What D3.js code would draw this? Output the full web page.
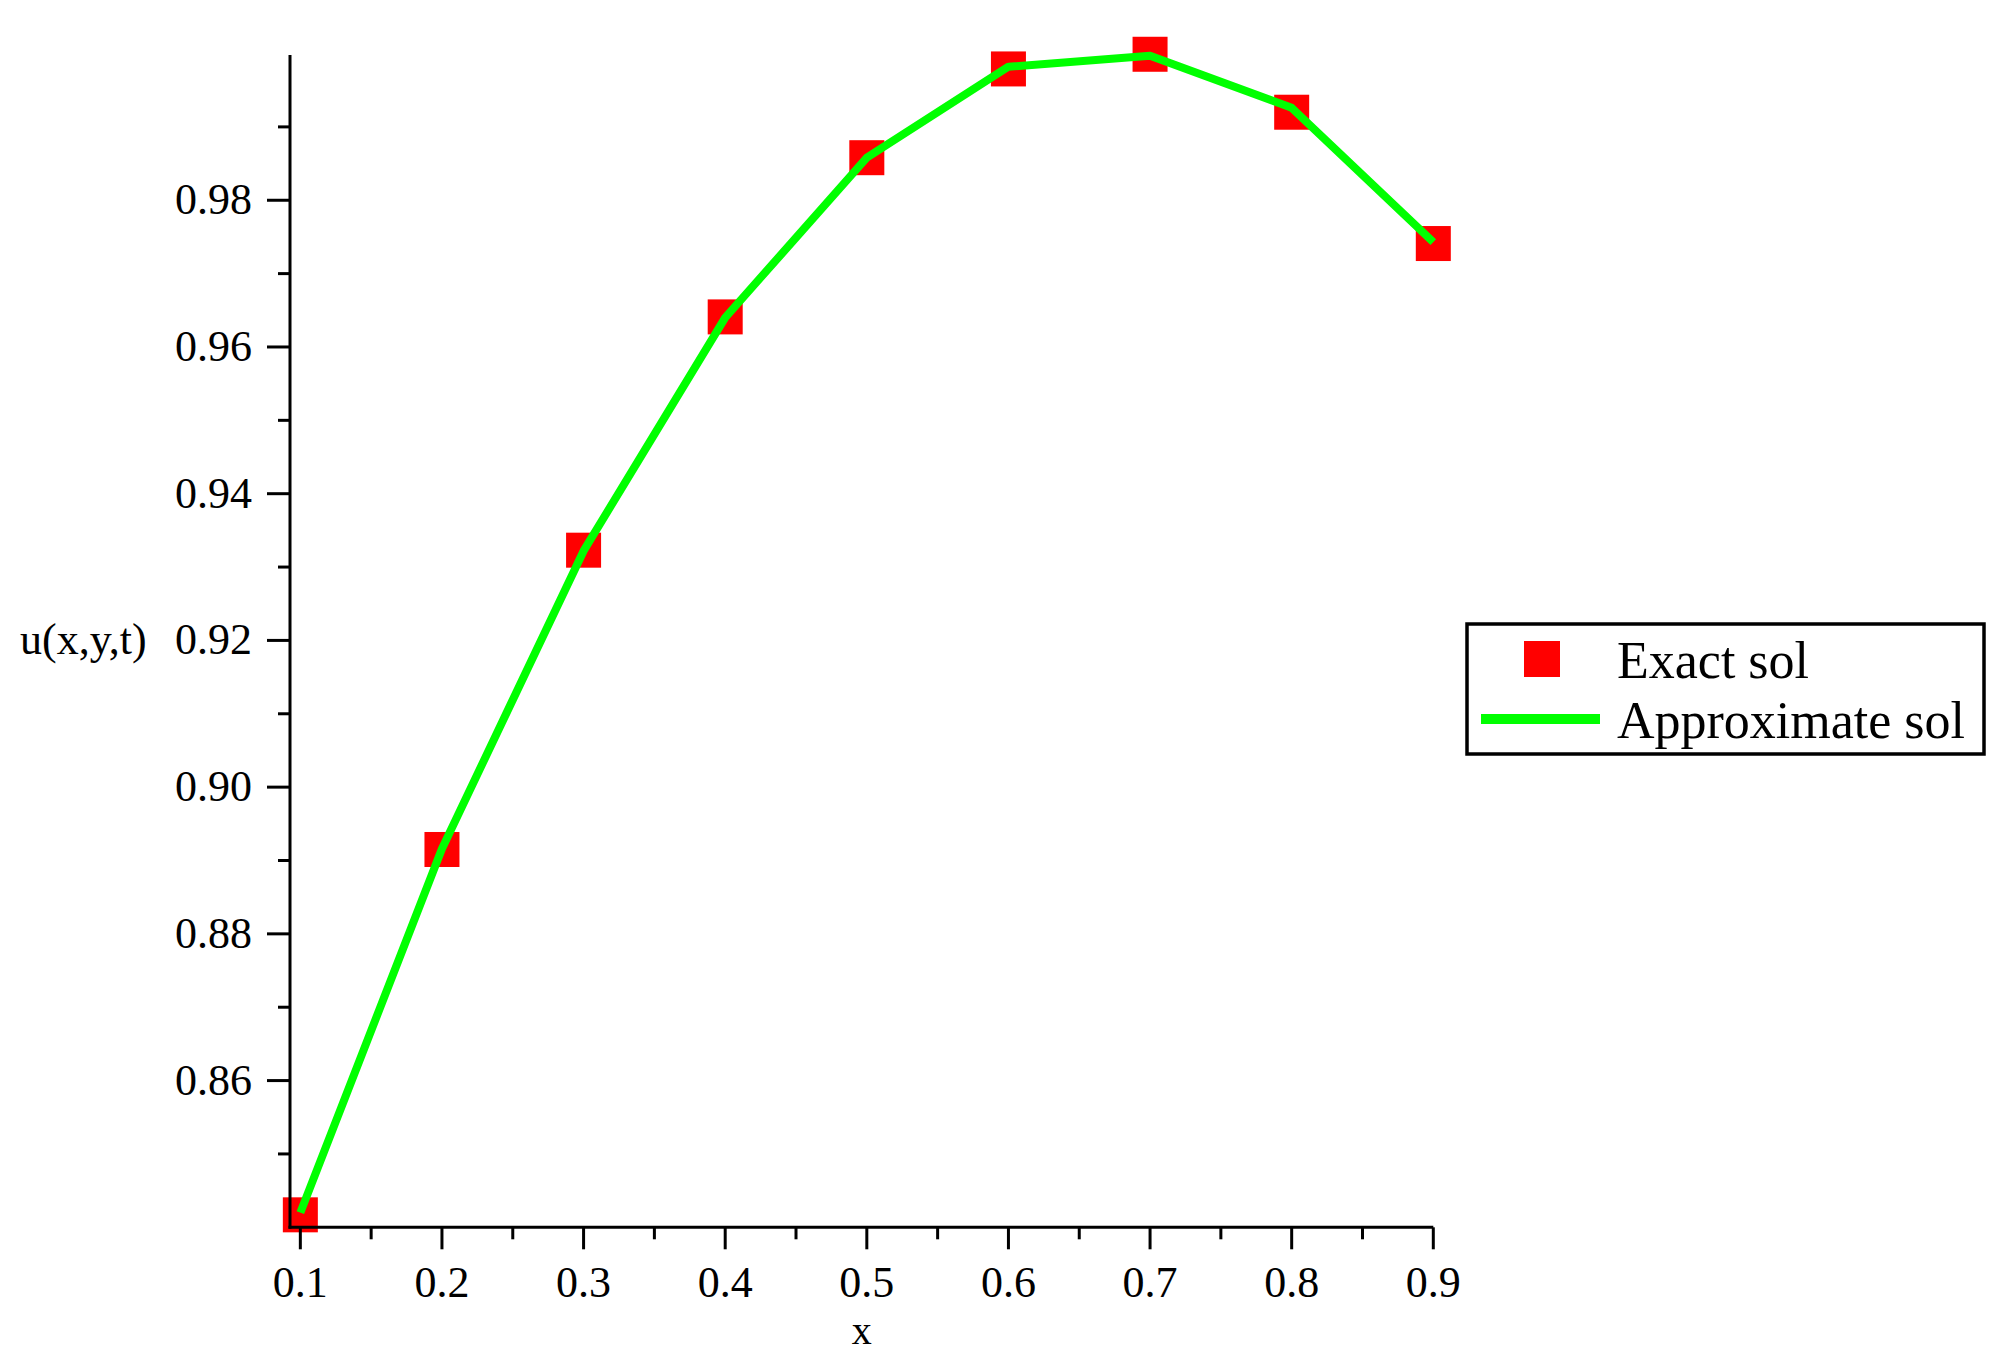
<!DOCTYPE html>
<html>
<head>
<meta charset="utf-8">
<script src="https://cdn.jsdelivr.net/npm/d3@7"></script>
<style>
  html, body { margin: 0; padding: 0; background: #fff; }
  svg { display: block; }
  text { font-family: "Liberation Serif", "Times New Roman", serif; fill: #000; }
</style>
</head>
<body>
<svg id="chart" width="2015" height="1371"></svg>
<script>
// ---- data ----
const xValues = [0.1, 0.2, 0.3, 0.4, 0.5, 0.6, 0.7, 0.8, 0.9];
const exactSol = [0.8417, 0.8915, 0.9323, 0.9641, 0.9858, 0.9979, 0.9999, 0.9920, 0.9741];
const approxSol = [0.8420, 0.8916, 0.9322, 0.9640, 0.9858, 0.9982, 0.9997, 0.9926, 0.9743];
const xTickLabels = ["0.1", "0.2", "0.3", "0.4", "0.5", "0.6", "0.7", "0.8", "0.9"];
const yTickValues = [0.86, 0.88, 0.90, 0.92, 0.94, 0.96, 0.98];
const yMinorTicks = [0.85, 0.87, 0.89, 0.91, 0.93, 0.95, 0.97, 0.99];
const xMinorTicks = [0.15, 0.25, 0.35, 0.45, 0.55, 0.65, 0.75, 0.85];
const legendLabels = ["Exact sol", "Approximate sol"];
const xTitle = "x";
const yTitle = "u(x,y,t)";

// ---- layout ----
const svg = d3.select("#chart");
const x = d3.scaleLinear().domain([0.0927, 0.9]).range([290, 1433.3]);
const y = d3.scaleLinear().domain([0.84, 0.9998]).range([1227.3, 55]);
const red = "#ff0000", green = "#00ff00";

// approximate line
const line = d3.line().x((d, i) => x(xValues[i])).y(d => y(d));
// exact squares
const sq = 35;
svg.append("g").selectAll("rect").data(exactSol).join("rect")
  .attr("x", (d, i) => x(xValues[i]) - sq / 2)
  .attr("y", d => y(d) - sq / 2)
  .attr("width", sq).attr("height", sq)
  .attr("fill", red);

svg.append("path").datum(approxSol)
  .attr("d", line)
  .attr("fill", "none")
  .attr("stroke", green)
  .attr("stroke-width", 8)
  .attr("stroke-linejoin", "round");

// axes
const axisG = svg.append("g").attr("stroke", "#000").attr("stroke-width", 3);
axisG.append("line").attr("x1", x(0.0927)).attr("x2", x(0.0927))
  .attr("y1", y(0.9998)).attr("y2", y(0.84) + 1.5);
axisG.append("line").attr("x1", x(0.0927) - 1.5).attr("x2", x(0.9))
  .attr("y1", y(0.84)).attr("y2", y(0.84));

// y ticks
axisG.selectAll(".ymaj").data(yTickValues).join("line")
  .attr("class", "ymaj")
  .attr("x1", x(0.0927) - 23).attr("x2", x(0.0927))
  .attr("y1", d => y(d)).attr("y2", d => y(d));
axisG.selectAll(".ymin").data(yMinorTicks).join("line")
  .attr("class", "ymin")
  .attr("x1", x(0.0927) - 12).attr("x2", x(0.0927))
  .attr("y1", d => y(d)).attr("y2", d => y(d));

// x ticks
const xAxisY = y(0.84);
svg.append("g").attr("stroke", "#000").attr("stroke-width", 3)
  .selectAll("line").data(xValues).join("line")
  .attr("x1", d => x(d)).attr("x2", d => x(d))
  .attr("y1", xAxisY).attr("y2", xAxisY + 22);
svg.append("g").attr("stroke", "#000").attr("stroke-width", 3)
  .selectAll("line").data(xMinorTicks).join("line")
  .attr("x1", d => x(d)).attr("x2", d => x(d))
  .attr("y1", xAxisY).attr("y2", xAxisY + 12);

// tick labels
const fs = 44;
svg.append("g").selectAll("text").data(xValues).join("text")
  .attr("x", d => x(d)).attr("y", 1297)
  .attr("text-anchor", "middle")
  .attr("font-size", fs)
  .text((d, i) => xTickLabels[i]);

svg.append("g").selectAll("text").data(yTickValues).join("text")
  .attr("x", 252).attr("y", d => y(d) + 14)
  .attr("text-anchor", "end")
  .attr("font-size", fs)
  .text(d => d.toFixed(2));

// axis titles
svg.append("text").attr("x", (290 + 1433.3) / 2).attr("y", 1344)
  .attr("text-anchor", "middle").attr("font-size", 40).text(xTitle);
svg.append("text").attr("x", 20).attr("y", y(0.92) + 14)
  .attr("text-anchor", "start").attr("font-size", fs).text(yTitle);

// legend
const lg = svg.append("g");
lg.append("rect").attr("x", 1467).attr("y", 624).attr("width", 517).attr("height", 130)
  .attr("fill", "#fff").attr("stroke", "#000").attr("stroke-width", 3.5);
lg.append("rect").attr("x", 1542 - 18).attr("y", 659 - 18).attr("width", 36).attr("height", 36)
  .attr("fill", red);
lg.append("line").attr("x1", 1481).attr("x2", 1600).attr("y1", 719).attr("y2", 719)
  .attr("stroke", green).attr("stroke-width", 10);
lg.selectAll("text.leg").data(legendLabels).join("text")
  .attr("class", "leg")
  .attr("x", 1617).attr("y", (d, i) => 678 + i * 60)
  .attr("font-size", 52)
  .text(d => d);
</script>
</body>
</html>
